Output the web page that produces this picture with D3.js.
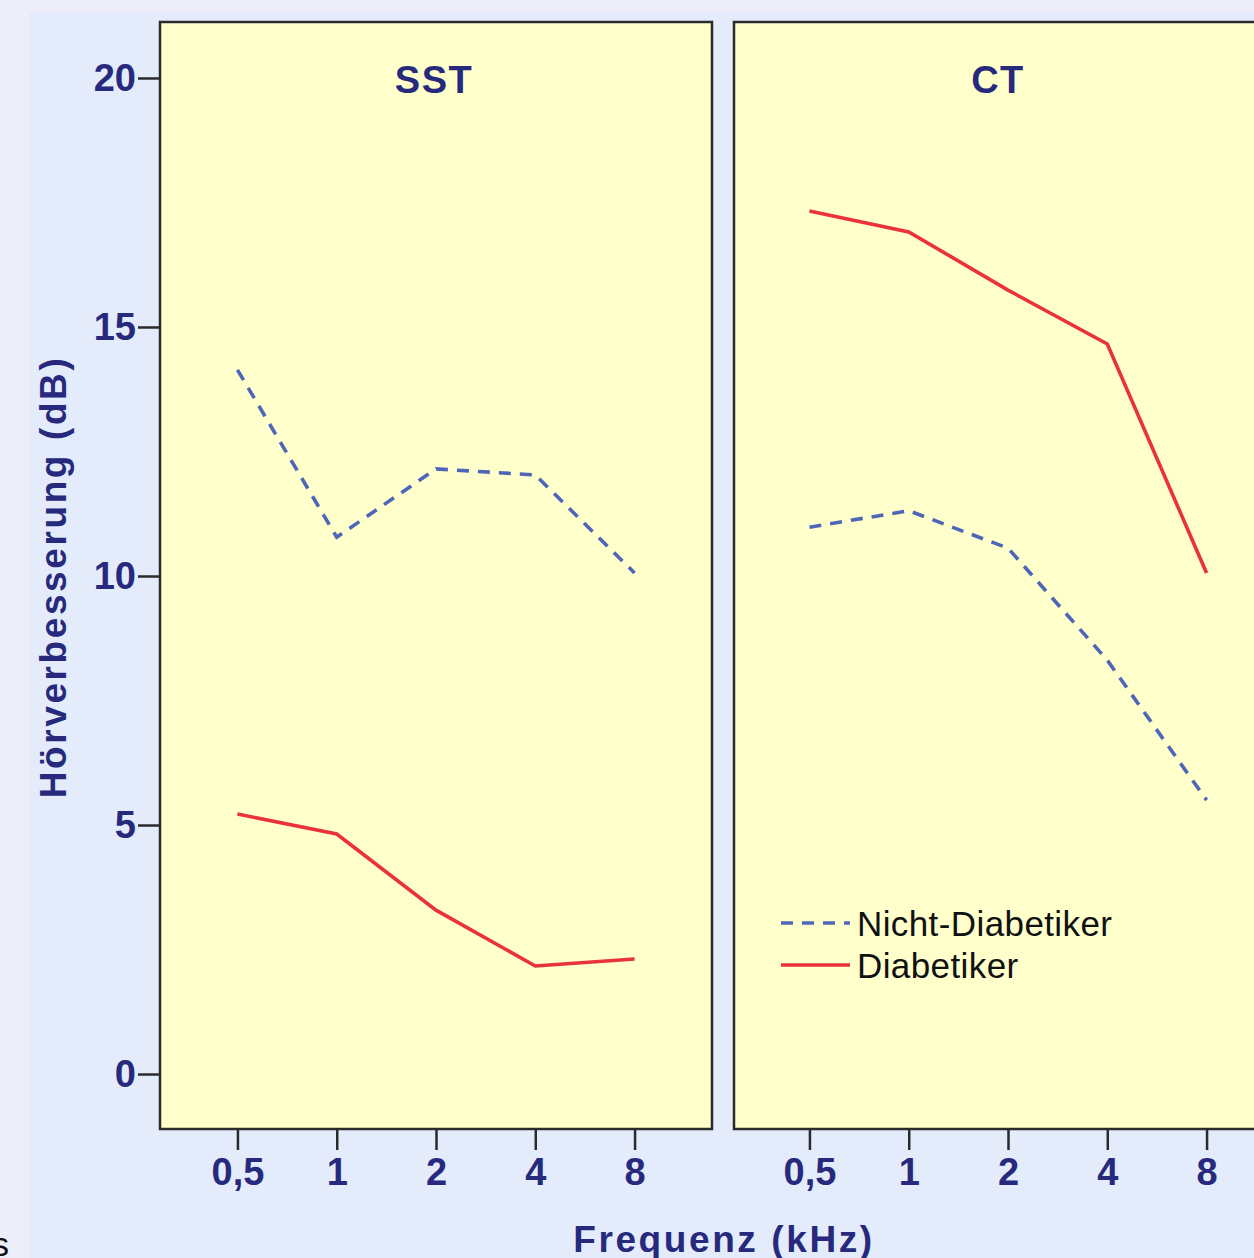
<!DOCTYPE html>
<html><head><meta charset="utf-8">
<script src="https://cdn.jsdelivr.net/npm/d3@7"></script>
<style>html,body{margin:0;padding:0;background:#eeeefa;overflow:hidden}</style>
</head><body>
<svg id="c" width="1254" height="1258"></svg>
<script>
const frequencies = ["0,5","1","2","4","8"];
const panels = ["SST","CT"];
const yTicks = [0,5,10,15,20];
const sstNicht = [14.14,10.78,12.15,12.03,10.06];
const sstDiab  = [5.22,4.82,3.29,2.17,2.31];
const ctNicht  = [10.98,11.31,10.56,8.31,5.50];
const ctDiab   = [17.33,16.91,15.74,14.66,10.06];
const seriesNames = ["Nicht-Diabetiker","Diabetiker"];
const panelData = {SST:[sstNicht,sstDiab], CT:[ctNicht,ctDiab]};

const navy = "#272a7c";
const colors = ["#4f66b8","#ea323c"];
const svg = d3.select("#c");
const font = "'Liberation Sans', Arial, sans-serif";

svg.append("rect").attr("x",29).attr("y",13).attr("width",1254).attr("height",1258).attr("fill","#e4ecfc");

const plotTop = 22, plotBottom = 1129;
const y = d3.scaleLinear().domain([-1.104,21.124]).range([plotBottom, plotTop]);
const panelX = [160, 734], panelW = 552;
const rangeShift = [0, -2];
const titleX = [434, 998];

panels.forEach((p,i)=>{
  const x0 = panelX[i];
  const x = d3.scalePoint().domain(frequencies)
    .range([x0 + rangeShift[i], x0 + rangeShift[i] + panelW]).padding(0.78);
  const g = svg.append("g");
  g.append("rect").attr("x",x0).attr("y",plotTop).attr("width",panelW).attr("height",plotBottom-plotTop)
    .attr("fill","#ffffcc").attr("stroke","#2a2a2a").attr("stroke-width",2.5);
  g.append("text").attr("x", titleX[i]).attr("y",93).attr("text-anchor","middle")
    .attr("font-family",font).attr("font-weight","bold").attr("font-size",38)
    .attr("letter-spacing",1.5).attr("fill",navy).text(p);
  const xa = g.append("g").attr("transform",`translate(0,${plotBottom})`)
    .call(d3.axisBottom(x).tickSize(21).tickPadding(8));
  xa.select(".domain").remove();
  xa.selectAll("line").attr("stroke","#2a2a2a").attr("stroke-width",2.5);
  xa.selectAll("text").attr("font-family",font).attr("font-weight","bold").attr("font-size",38).attr("fill",navy);
  const line = d3.line().x((d,j)=>x(frequencies[j])).y(d=>y(d));
  panelData[p].forEach((vals,k)=>{
    g.append("path").datum(vals).attr("d",line).attr("fill","none")
      .attr("stroke",colors[k]).attr("stroke-width",3.6)
      .attr("stroke-dasharray", k===0?"12,9":null);
  });
});

const ya = svg.append("g").attr("transform",`translate(${panelX[0]},0)`)
  .call(d3.axisLeft(y).tickValues(yTicks).tickSize(22).tickPadding(2));
ya.select(".domain").remove();
ya.selectAll("line").attr("stroke","#2a2a2a").attr("stroke-width",2.5);
ya.selectAll("text").attr("font-family",font).attr("font-weight","bold").attr("font-size",38).attr("fill",navy);

svg.append("text").attr("transform","translate(66,577) rotate(-90)").attr("text-anchor","middle")
  .attr("font-family",font).attr("font-weight","bold").attr("font-size",37)
  .attr("letter-spacing",2.6).attr("fill",navy)
  .text("Hörverbesserung (dB)");
svg.append("text").attr("x",724).attr("y",1252).attr("text-anchor","middle")
  .attr("font-family",font).attr("font-weight","bold").attr("font-size",37)
  .attr("letter-spacing",2.6).attr("fill",navy)
  .text("Frequenz (kHz)");

const lg = svg.append("g");
seriesNames.forEach((n,k)=>{
  const ly = 923 + k*42;
  lg.append("line").attr("x1",781).attr("x2",850).attr("y1",ly).attr("y2",ly)
    .attr("stroke",colors[k]).attr("stroke-width",3.6).attr("stroke-dasharray",k===0?"12,9":null);
  lg.append("text").attr("x",857).attr("y",ly+13).attr("font-family",font).attr("font-size",35)
    .attr("letter-spacing",0.4).attr("fill","#111").text(n);
});

svg.append("text").attr("x",-8).attr("y",1256).attr("font-family",font).attr("font-size",34).attr("fill","#111").text("s");
</script>
</body></html>
